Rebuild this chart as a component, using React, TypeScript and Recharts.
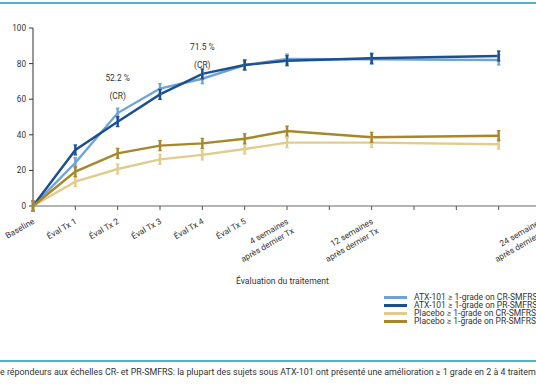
import React from "react";
import { LineChart, Line, XAxis, YAxis } from "recharts";

const xPositions = [0, 1, 2, 3, 4, 5, 6, 8, 11];
const atxCR = [0, 24.3, 52.2, 66, 71.5, 79.2, 82.6, 82.4, 82];
const atxPR = [0, 31.5, 47.4, 62.7, 74.2, 79.2, 81.6, 83, 84.3];
const placeboCR = [0, 13.7, 20.8, 26.2, 28.7, 32, 35.6, 35.6, 34.7];
const placeboPR = [0, 19.3, 29.6, 33.9, 35.2, 37.8, 42.1, 38.6, 39.5];

const tickValues = [0, 1, 2, 3, 4, 5, 6, 7, 8, 9, 10, 11, 12];
const tickLabels: Record<number, string[]> = {
  0: ["Baseline"],
  1: ["Éval Tx 1"],
  2: ["Éval Tx 2"],
  3: ["Éval Tx 3"],
  4: ["Éval Tx 4"],
  5: ["Éval Tx 5"],
  6: ["4 semaines", "après dernier Tx"],
  8: ["12 semaines", "après dernier Tx"],
  12: ["24 semaines", "après dernier Tx"],
};
const yTicks = [0, 20, 40, 60, 80, 100];

const seriesNames = [
  "ATX-101 ≥ 1-grade on CR-SMFRS",
  "ATX-101 ≥ 1-grade on PR-SMFRS",
  "Placebo ≥ 1-grade on CR-SMFRS",
  "Placebo ≥ 1-grade on PR-SMFRS",
];
const seriesKeys = ["atxCR", "atxPR", "placeboCR", "placeboPR"];
const seriesColors = ["#6ea3d8", "#1b4f8e", "#e2cc8c", "#a8862a"];

const annotations = [
  { x: 2, label: ["52.2 %", "(CR)"], y: 75 },
  { x: 4, label: ["71.5 %", "(CR)"], y: 44 },
];

const data = xPositions.map((x, i) => ({
  x,
  atxCR: atxCR[i],
  atxPR: atxPR[i],
  placeboCR: placeboCR[i],
  placeboPR: placeboPR[i],
}));

const FONT = "Roboto, 'DejaVu Sans', sans-serif";

const XTick = (props: any) => {
  const { x, y, payload } = props;
  const lines = tickLabels[payload.value];
  if (!lines) return null;
  return (
    <g transform={`translate(${x + 2},${y + 11}) rotate(-30)`}>
      {lines.map((l, i) => (
        <text
          key={i}
          x={0}
          y={i * 11}
          textAnchor="end"
          fontSize={8.4}
          fill="#333"
          fontFamily={FONT}
        >
          {l}
        </text>
      ))}
    </g>
  );
};

const makeDot = (color: string) => (props: any) => {
  const { cx, cy, index } = props;
  if (cx == null || cy == null) return <g key={index} />;
  return (
    <g key={index}>
      <line x1={cx} x2={cx} y1={cy - 5} y2={cy + 5} stroke={color} strokeWidth={2.4} />
      <line x1={cx - 1.8} x2={cx + 1.8} y1={cy - 5} y2={cy - 5} stroke={color} strokeWidth={1.2} />
      <line x1={cx - 1.8} x2={cx + 1.8} y1={cy + 5} y2={cy + 5} stroke={color} strokeWidth={1.2} />
    </g>
  );
};

export default function App() {
  return (
    <div style={{ position: "absolute", left: 0, top: 0, width: 536, height: 386, overflow: "hidden", background: "#fff", fontFamily: FONT }}>
      <div style={{ position: "absolute", left: 0, top: 2, width: 536, height: 2, background: "#4db3cc" }} />
      <LineChart
        width={560}
        height={386}
        data={data}
        margin={{ top: 28, right: 19, bottom: 0, left: 0 }}
      >
        <XAxis
          dataKey="x"
          type="number"
          domain={[0, 12]}
          ticks={tickValues}
          interval={0}
          height={180}
          axisLine={{ stroke: "#9a9a9a", strokeWidth: 1.6 }}
          tickLine={{ stroke: "#555" }}
          tickSize={4}
          tick={<XTick />}
        />
        <YAxis
          type="number"
          domain={[0, 100]}
          ticks={yTicks}
          width={33}
          axisLine={{ stroke: "#333" }}
          tickLine={{ stroke: "#333" }}
          tickSize={4}
          tickMargin={3}
          tick={{ fontSize: 8.2, fill: "#333", fontFamily: FONT }}
        />
        {seriesKeys.map((k, i) => (
          <Line
            key={k}
            dataKey={k}
            type="linear"
            stroke={seriesColors[i]}
            strokeWidth={2.4}
            dot={makeDot(seriesColors[i])}
            activeDot={false}
            isAnimationActive={false}
          />
        ))}
      </LineChart>
      {annotations.map((a, i) => (
        <div key={i} style={{ position: "absolute", left: 33 + a.x * 42.33 - 30, top: a.y - 6, width: 60, textAlign: "center", fontSize: 8.4, color: "#333", lineHeight: "18px" }}>
          <div>{a.label[0]}</div>
          <div>{a.label[1]}</div>
        </div>
      ))}
      <div style={{ position: "absolute", left: 236, top: 276, fontSize: 8.6, color: "#333", whiteSpace: "nowrap" }}>
        Évaluation du traitement
      </div>
      <div style={{ position: "absolute", left: 384, top: 293, fontSize: 8.5, color: "#333", lineHeight: "8px" }}>
        {seriesNames.map((n, i) => (
          <div key={i} style={{ display: "flex", alignItems: "center", whiteSpace: "nowrap", height: 8 }}>
            <div style={{ width: 23, height: 3, background: seriesColors[i], marginRight: 7 }} />
            <span>{n}</span>
          </div>
        ))}
      </div>
      <div style={{ position: "absolute", left: 0, top: 360, width: 536, height: 2, background: "#4db3cc" }} />
      <div style={{ position: "absolute", left: 0, top: 367, fontSize: 8.9, color: "#333", whiteSpace: "nowrap" }}>
        e répondeurs aux échelles CR- et PR-SMFRS: la plupart des sujets sous ATX-101 ont présenté une amélioration ≥ 1 grade en 2 à 4 traitements
      </div>
    </div>
  );
}
